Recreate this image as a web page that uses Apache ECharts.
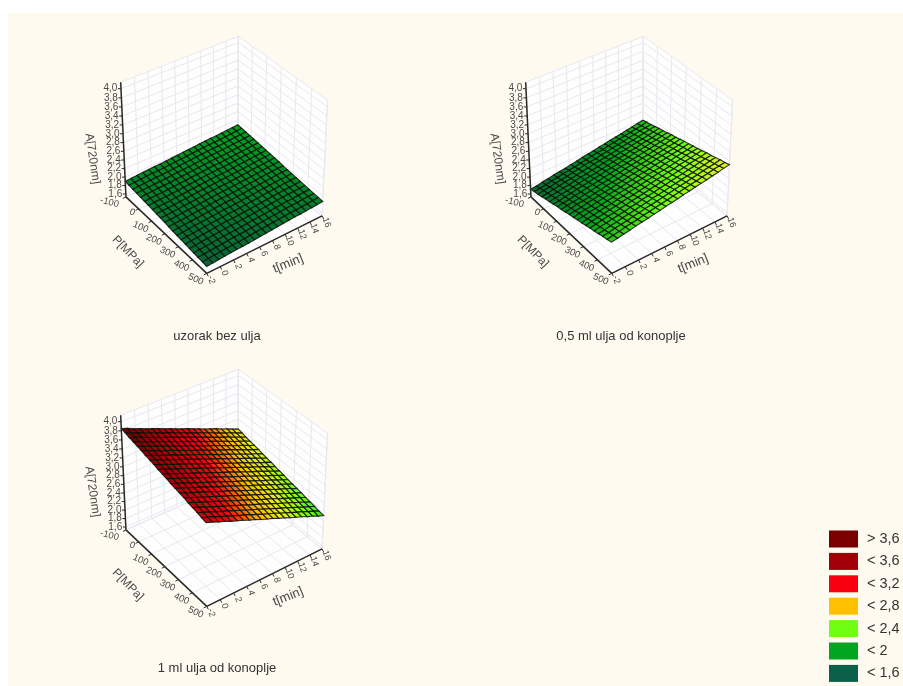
<!DOCTYPE html>
<html><head><meta charset="utf-8">
<style>html,body{margin:0;padding:0;background:#fff}#c{width:903px;height:686px;filter:blur(0.45px)}</style>
<script src="https://cdn.jsdelivr.net/npm/echarts@6/dist/echarts.min.js"></script></head>
<body><div id="c"></div><script>
const tTicks=[-2,0,2,4,6,8,10,12,14,16];
const pTicks=[-100,0,100,200,300,400,500];
const zTicks=[1.6,1.8,2.0,2.2,2.4,2.6,2.8,3.0,3.2,3.4,3.6,3.8,4.0];
const zLabels=['1,6','1,8','2,0','2,2','2,4','2,6','2,8','3,0','3,2','3,4','3,6','3,8','4,0'];
const legendNames=['> 3,6','< 3,6','< 3,2','< 2,8','< 2,4','< 2','< 1,6'];
const legendColors=['#7a0000','#a00008','#f80010','#ffc000','#70ff10','#00a520','#0a6048'];
const captions=['uzorak bez ulja','0,5 ml ulja od konoplje','1 ml ulja od konoplje'];
// surface heights: one row per P step (-100..500), one column per t step (-2..16)
const surf1=[
[1.90,1.91,1.92,1.93,1.94,1.95,1.95,1.96,1.97,1.98,1.99,2.00,2.01,2.02,2.03,2.04,2.04,2.05,2.06,2.07,2.08],
[1.89,1.90,1.91,1.92,1.93,1.93,1.94,1.95,1.96,1.97,1.98,1.99,2.00,2.01,2.02,2.02,2.03,2.04,2.05,2.06,2.07],
[1.88,1.89,1.90,1.91,1.92,1.92,1.93,1.94,1.95,1.96,1.97,1.98,1.99,2.00,2.01,2.01,2.02,2.03,2.04,2.05,2.06],
[1.87,1.88,1.89,1.90,1.90,1.91,1.92,1.93,1.94,1.95,1.96,1.97,1.98,1.99,1.99,2.00,2.01,2.02,2.03,2.04,2.05],
[1.86,1.87,1.88,1.89,1.89,1.90,1.91,1.92,1.93,1.94,1.95,1.96,1.97,1.98,1.98,1.99,2.00,2.01,2.02,2.03,2.04],
[1.85,1.86,1.87,1.87,1.88,1.89,1.90,1.91,1.92,1.93,1.94,1.95,1.96,1.96,1.97,1.98,1.99,2.00,2.01,2.02,2.03],
[1.84,1.85,1.86,1.86,1.87,1.88,1.89,1.90,1.91,1.92,1.93,1.94,1.95,1.95,1.96,1.97,1.98,1.99,2.00,2.01,2.02],
[1.83,1.84,1.84,1.85,1.86,1.87,1.88,1.89,1.90,1.91,1.92,1.93,1.93,1.94,1.95,1.96,1.97,1.98,1.99,2.00,2.01],
[1.82,1.83,1.83,1.84,1.85,1.86,1.87,1.88,1.89,1.90,1.91,1.92,1.92,1.93,1.94,1.95,1.96,1.97,1.98,1.99,2.00],
[1.81,1.81,1.82,1.83,1.84,1.85,1.86,1.87,1.88,1.89,1.90,1.90,1.91,1.92,1.93,1.94,1.95,1.96,1.97,1.98,1.99],
[1.80,1.80,1.81,1.82,1.83,1.84,1.85,1.86,1.87,1.88,1.89,1.89,1.90,1.91,1.92,1.93,1.94,1.95,1.96,1.97,1.98],
[1.78,1.79,1.80,1.81,1.82,1.83,1.84,1.85,1.86,1.87,1.87,1.88,1.89,1.90,1.91,1.92,1.93,1.94,1.95,1.96,1.96],
[1.77,1.78,1.79,1.80,1.81,1.82,1.83,1.84,1.85,1.86,1.86,1.87,1.88,1.89,1.90,1.91,1.92,1.93,1.94,1.95,1.95],
[1.76,1.77,1.78,1.79,1.80,1.81,1.82,1.83,1.84,1.84,1.85,1.86,1.87,1.88,1.89,1.90,1.91,1.92,1.93,1.93,1.94],
[1.75,1.76,1.77,1.78,1.79,1.80,1.81,1.82,1.83,1.83,1.84,1.85,1.86,1.87,1.88,1.89,1.90,1.91,1.92,1.92,1.93],
[1.74,1.75,1.76,1.77,1.78,1.79,1.80,1.81,1.81,1.82,1.83,1.84,1.85,1.86,1.87,1.88,1.89,1.90,1.90,1.91,1.92],
[1.73,1.74,1.75,1.76,1.77,1.78,1.79,1.80,1.80,1.81,1.82,1.83,1.84,1.85,1.86,1.87,1.88,1.89,1.89,1.90,1.91],
[1.72,1.73,1.74,1.75,1.76,1.77,1.78,1.78,1.79,1.80,1.81,1.82,1.83,1.84,1.85,1.86,1.87,1.87,1.88,1.89,1.90],
[1.71,1.72,1.73,1.74,1.75,1.76,1.77,1.77,1.78,1.79,1.80,1.81,1.82,1.83,1.84,1.85,1.86,1.86,1.87,1.88,1.89],
[1.70,1.71,1.72,1.73,1.74,1.75,1.75,1.76,1.77,1.78,1.79,1.80,1.81,1.82,1.83,1.84,1.84,1.85,1.86,1.87,1.88],
[1.69,1.70,1.71,1.72,1.73,1.74,1.74,1.75,1.76,1.77,1.78,1.79,1.80,1.81,1.82,1.83,1.83,1.84,1.85,1.86,1.87]];
const surf2=[
[1.71,1.73,1.76,1.78,1.81,1.83,1.85,1.88,1.90,1.93,1.95,1.97,2.00,2.02,2.05,2.07,2.09,2.12,2.14,2.17,2.19],
[1.74,1.76,1.78,1.81,1.83,1.86,1.88,1.90,1.93,1.95,1.98,2.00,2.02,2.05,2.07,2.10,2.12,2.14,2.17,2.19,2.22],
[1.76,1.79,1.81,1.84,1.86,1.88,1.91,1.93,1.96,1.98,2.00,2.03,2.05,2.08,2.10,2.12,2.15,2.17,2.20,2.22,2.24],
[1.79,1.81,1.84,1.86,1.89,1.91,1.93,1.96,1.98,2.01,2.03,2.05,2.08,2.10,2.13,2.15,2.17,2.20,2.22,2.25,2.27],
[1.82,1.84,1.86,1.89,1.91,1.94,1.96,1.98,2.01,2.03,2.06,2.08,2.10,2.13,2.15,2.18,2.20,2.22,2.25,2.27,2.30],
[1.84,1.87,1.89,1.91,1.94,1.96,1.99,2.01,2.03,2.06,2.08,2.11,2.13,2.15,2.18,2.20,2.23,2.25,2.27,2.30,2.32],
[1.87,1.89,1.92,1.94,1.97,1.99,2.01,2.04,2.06,2.09,2.11,2.13,2.16,2.18,2.21,2.23,2.25,2.28,2.30,2.33,2.35],
[1.90,1.92,1.94,1.97,1.99,2.02,2.04,2.06,2.09,2.11,2.14,2.16,2.18,2.21,2.23,2.26,2.28,2.30,2.33,2.35,2.38],
[1.92,1.95,1.97,1.99,2.02,2.04,2.07,2.09,2.11,2.14,2.16,2.19,2.21,2.23,2.26,2.28,2.31,2.33,2.35,2.38,2.40],
[1.95,1.97,2.00,2.02,2.04,2.07,2.09,2.12,2.14,2.16,2.19,2.21,2.24,2.26,2.28,2.31,2.33,2.36,2.38,2.40,2.43],
[1.98,2.00,2.02,2.05,2.07,2.10,2.12,2.14,2.17,2.19,2.22,2.24,2.26,2.29,2.31,2.34,2.36,2.38,2.41,2.43,2.46],
[2.00,2.03,2.05,2.07,2.10,2.12,2.15,2.17,2.19,2.22,2.24,2.27,2.29,2.31,2.34,2.36,2.39,2.41,2.43,2.46,2.48],
[2.03,2.05,2.08,2.10,2.12,2.15,2.17,2.20,2.22,2.24,2.27,2.29,2.32,2.34,2.36,2.39,2.41,2.44,2.46,2.48,2.51],
[2.05,2.08,2.10,2.13,2.15,2.17,2.20,2.22,2.25,2.27,2.29,2.32,2.34,2.37,2.39,2.41,2.44,2.46,2.49,2.51,2.53],
[2.08,2.11,2.13,2.15,2.18,2.20,2.23,2.25,2.27,2.30,2.32,2.35,2.37,2.39,2.42,2.44,2.47,2.49,2.51,2.54,2.56],
[2.11,2.13,2.16,2.18,2.20,2.23,2.25,2.28,2.30,2.32,2.35,2.37,2.40,2.42,2.44,2.47,2.49,2.52,2.54,2.56,2.59],
[2.13,2.16,2.18,2.21,2.23,2.25,2.28,2.30,2.33,2.35,2.37,2.40,2.42,2.45,2.47,2.49,2.52,2.54,2.57,2.59,2.61],
[2.16,2.18,2.21,2.23,2.26,2.28,2.30,2.33,2.35,2.38,2.40,2.42,2.45,2.47,2.50,2.52,2.54,2.57,2.59,2.62,2.64],
[2.19,2.21,2.24,2.26,2.28,2.31,2.33,2.36,2.38,2.40,2.43,2.45,2.48,2.50,2.52,2.55,2.57,2.60,2.62,2.64,2.67],
[2.21,2.24,2.26,2.29,2.31,2.33,2.36,2.38,2.41,2.43,2.45,2.48,2.50,2.53,2.55,2.57,2.60,2.62,2.65,2.67,2.69],
[2.24,2.26,2.29,2.31,2.34,2.36,2.38,2.41,2.43,2.46,2.48,2.50,2.53,2.55,2.58,2.60,2.62,2.65,2.67,2.70,2.72]];
const surf3=[
[3.85,3.80,3.74,3.69,3.63,3.58,3.53,3.47,3.42,3.36,3.31,3.26,3.20,3.15,3.09,3.04,2.99,2.93,2.88,2.82,2.77],
[3.83,3.77,3.72,3.67,3.61,3.56,3.50,3.45,3.40,3.34,3.29,3.23,3.18,3.13,3.07,3.02,2.96,2.91,2.86,2.80,2.75],
[3.80,3.75,3.70,3.64,3.59,3.53,3.48,3.43,3.37,3.32,3.26,3.21,3.16,3.10,3.05,2.99,2.94,2.89,2.83,2.78,2.72],
[3.78,3.73,3.67,3.62,3.57,3.51,3.46,3.40,3.35,3.30,3.24,3.19,3.13,3.08,3.03,2.97,2.92,2.86,2.81,2.76,2.70],
[3.76,3.70,3.65,3.60,3.54,3.49,3.43,3.38,3.33,3.27,3.22,3.16,3.11,3.06,3.00,2.95,2.89,2.84,2.79,2.73,2.68],
[3.74,3.68,3.63,3.57,3.52,3.47,3.41,3.36,3.30,3.25,3.20,3.14,3.09,3.03,2.98,2.93,2.87,2.82,2.76,2.71,2.66],
[3.71,3.66,3.60,3.55,3.50,3.44,3.39,3.33,3.28,3.23,3.17,3.12,3.06,3.01,2.96,2.90,2.85,2.79,2.74,2.69,2.63],
[3.69,3.64,3.58,3.53,3.47,3.42,3.37,3.31,3.26,3.20,3.15,3.10,3.04,2.99,2.93,2.88,2.83,2.77,2.72,2.66,2.61],
[3.67,3.61,3.56,3.50,3.45,3.40,3.34,3.29,3.23,3.18,3.13,3.07,3.02,2.96,2.91,2.86,2.80,2.75,2.69,2.64,2.59],
[3.64,3.59,3.54,3.48,3.43,3.37,3.32,3.27,3.21,3.16,3.10,3.05,3.00,2.94,2.89,2.83,2.78,2.73,2.67,2.62,2.56],
[3.62,3.57,3.51,3.46,3.40,3.35,3.30,3.24,3.19,3.13,3.08,3.03,2.97,2.92,2.86,2.81,2.76,2.70,2.65,2.59,2.54],
[3.60,3.54,3.49,3.44,3.38,3.33,3.27,3.22,3.17,3.11,3.06,3.00,2.95,2.90,2.84,2.79,2.73,2.68,2.63,2.57,2.52],
[3.57,3.52,3.47,3.41,3.36,3.30,3.25,3.20,3.14,3.09,3.03,2.98,2.93,2.87,2.82,2.76,2.71,2.66,2.60,2.55,2.49],
[3.55,3.50,3.44,3.39,3.34,3.28,3.23,3.17,3.12,3.07,3.01,2.96,2.90,2.85,2.80,2.74,2.69,2.63,2.58,2.53,2.47],
[3.53,3.47,3.42,3.37,3.31,3.26,3.20,3.15,3.10,3.04,2.99,2.93,2.88,2.83,2.77,2.72,2.66,2.61,2.56,2.50,2.45],
[3.51,3.45,3.40,3.34,3.29,3.24,3.18,3.13,3.07,3.02,2.97,2.91,2.86,2.80,2.75,2.70,2.64,2.59,2.53,2.48,2.43],
[3.48,3.43,3.37,3.32,3.27,3.21,3.16,3.10,3.05,3.00,2.94,2.89,2.83,2.78,2.73,2.67,2.62,2.56,2.51,2.46,2.40],
[3.46,3.41,3.35,3.30,3.24,3.19,3.14,3.08,3.03,2.97,2.92,2.87,2.81,2.76,2.70,2.65,2.60,2.54,2.49,2.43,2.38],
[3.44,3.38,3.33,3.27,3.22,3.17,3.11,3.06,3.00,2.95,2.90,2.84,2.79,2.73,2.68,2.63,2.57,2.52,2.46,2.41,2.36],
[3.41,3.36,3.31,3.25,3.20,3.14,3.09,3.04,2.98,2.93,2.87,2.82,2.77,2.71,2.66,2.60,2.55,2.50,2.44,2.39,2.33],
[3.39,3.34,3.28,3.23,3.17,3.12,3.07,3.01,2.96,2.90,2.85,2.80,2.74,2.69,2.63,2.58,2.53,2.47,2.42,2.36,2.31]];
const N=surf1.length-1;
const colorStops=[[1.6,[10,85,62]],[2.1,[0,165,30]],[2.45,[112,255,16]],[2.7,[232,240,32]],[2.9,[255,190,0]],[3.2,[250,0,16]],[3.6,[160,0,8]],[3.9,[100,0,0]]];
function zColor(z){let s=colorStops;if(z<=s[0][0])return 'rgb('+s[0][1]+')';for(let i=1;i<s.length;i++){if(z<=s[i][0]){const f=(z-s[i-1][0])/(s[i][0]-s[i-1][0]);return 'rgb('+s[i][1].map((v,k)=>Math.round(s[i-1][1][k]+(v-s[i-1][1][k])*f))+')'}}return 'rgb('+s[s.length-1][1]+')'}
const T0=-2,T1=16,P0=-100,P1=500,Z0=1.53,Z1=4.14;
// camera calibration: box corners -> plane position within a panel's grid
const calib=[[T0,P0,Z0,46,178],[T0,P1,Z0,126.7,252.7],[T1,P1,Z0,241.7,196.7],[T0,P0,Z1,40.7,61.7],[T1,P1,Z1,248,80],[T1,P0,Z1,158,17],[T1,P0,Z0,158,126]];
const nt=t=>(t-T0)/(T1-T0),np=p=>(p-P0)/(P1-P0),nz=z=>(z-Z0)/(Z1-Z0);
function solve(){const A=[],B=[];calib.forEach(([t,p,z,u,v])=>{const x=nt(t),y=np(p),w=nz(z);A.push([x,y,w,1,0,0,0,0,-u*x,-u*y,-u*w]);B.push(u);A.push([0,0,0,0,x,y,w,1,-v*x,-v*y,-v*w]);B.push(v)});
const n=11,M=[];for(let i=0;i<n;i++){M.push([]);for(let j=0;j<=n;j++){let s=0;for(let k=0;k<A.length;k++)s+=A[k][i]*(j<n?A[k][j]:B[k]);M[i].push(s)}}
for(let i=0;i<n;i++){let p=i;for(let r=i+1;r<n;r++)if(Math.abs(M[r][i])>Math.abs(M[p][i]))p=r;[M[i],M[p]]=[M[p],M[i]];for(let r=0;r<n;r++)if(r!==i){const f=M[r][i]/M[i][i];for(let c=i;c<=n;c++)M[r][c]-=f*M[i][c]}}
return M.map((r,i)=>r[n]/r[i])}
const H=solve();
function proj(t,p,z){const x=nt(t),y=np(p),w=nz(z),d=H[8]*x+H[9]*y+H[10]*w+1;return [(H[0]*x+H[1]*y+H[2]*w+H[3])/d,(H[4]*x+H[5]*y+H[6]*w+H[7])/d]}
const panels=[{left:80,top:20,surf:surf1},{left:485,top:20,surf:surf2},{left:80,top:353,surf:surf3}];
const capPos=[[217,330],[621,330],[217,662]];
const WALL='#fefefe',GRID='#e8e8ee',AXIS='#2a2a2a',TXT='#4a4a4a';
const FONT='"Liberation Sans",Arial,sans-serif';
const walls=[[[T0,P0,Z0],[T1,P0,Z0],[T1,P0,Z1],[T0,P0,Z1]],[[T1,P0,Z0],[T1,P1,Z0],[T1,P1,Z1],[T1,P0,Z1]],[[T0,P0,Z0],[T1,P0,Z0],[T1,P1,Z0],[T0,P1,Z0]]];
const gridSegs=[];
tTicks.forEach(t=>{gridSegs.push([t,P0,Z0,t,P0,Z1]);gridSegs.push([t,P0,Z0,t,P1,Z0])});
pTicks.forEach(p=>{gridSegs.push([T1,p,Z0,T1,p,Z1]);gridSegs.push([T0,p,Z0,T1,p,Z0])});
zTicks.forEach(z=>{gridSegs.push([T0,P0,z,T1,P0,z]);gridSegs.push([T1,P0,z,T1,P1,z])});
const axisSegs=[[T0,P0,Z0,T0,P0,Z1],[T0,P0,Z0,T0,P1,Z0],[T0,P1,Z0,T1,P1,Z0]];
const tickMarks=[];
zTicks.forEach(z=>tickMarks.push({a:[T0,P0,z],d:[-3,0]}));
pTicks.forEach(p=>tickMarks.push({a:[T0,p,Z0],d:[-3,1.5]}));
tTicks.forEach(t=>tickMarks.push({a:[t,P1,Z0],d:[1.5,3]}));
const labels=[];
zTicks.forEach((z,i)=>labels.push({s:zLabels[i],a:[T0,P0,z],d:[-10.5,0],r:0,f:10}));
pTicks.forEach(p=>labels.push({s:String(p),a:[T0,p,Z0],d:p===-100?[-16.5,5.5]:p===0?[-6.5,3.5]:[-11,6],r:p===-100?-0.25:-0.42,f:9.5}));
tTicks.forEach(t=>labels.push({s:String(t),a:[t,P1,Z0],d:[4.5,6.5],r:-1.25,f:9}));
labels.push({s:'A[720nm]',a:[T0,P0,2.8],d:[-31,16],r:-1.43,f:12});
labels.push({s:'P[MPa]',a:[T0,200,Z0],d:[-37,18],r:-0.8,f:12});
labels.push({s:'t[min]',a:[7,P1,Z0],d:[22,20],r:0.38,f:13});
const series=[],grids=[],xA=[],yA=[];
panels.forEach((pn,k)=>{
 grids.push({left:pn.left,top:pn.top,width:320,height:320});
 xA.push({type:'value',gridIndex:k,min:0,max:320,show:false});
 yA.push({type:'value',gridIndex:k,min:0,max:320,inverse:true,show:false});
 const base={type:'custom',coordinateSystem:'cartesian2d',xAxisIndex:k,yAxisIndex:k,clip:false,silent:true,animation:false};
 const pt=(api,c)=>api.coord(proj(c[0],c[1],c[2]));
 series.push({...base,z:2,data:walls.map((_,i)=>[i,0]),renderItem:(ps,api)=>({type:'polygon',shape:{points:walls[ps.dataIndex].map(c=>pt(api,c))},style:{fill:WALL,stroke:GRID,lineWidth:1}})});
 series.push({...base,z:3,data:gridSegs.map((_,i)=>[i,0]),renderItem:(ps,api)=>{const s=gridSegs[ps.dataIndex],a=pt(api,s.slice(0,3)),b=pt(api,s.slice(3));return {type:'line',shape:{x1:a[0],y1:a[1],x2:b[0],y2:b[1]},style:{stroke:GRID,lineWidth:1}}}});
 const dT=(T1-T0)/N,dP=(P1-P0)/N,cells=[];
 for(let j=0;j<N;j++)for(let i=0;i<N;i++)cells.push([i,j]);
 series.push({...base,z:4,data:cells,renderItem:(ps,api)=>{const i=api.value(0),j=api.value(1),m=pn.surf;
  const q=[[i,j],[i+1,j],[i+1,j+1],[i,j+1]];let sum=0;
  const pts=q.map(([a,b])=>{sum+=m[b][a];return pt(api,[T0+a*dT,P0+b*dP,m[b][a]])});
  return {type:'polygon',shape:{points:pts},style:{fill:zColor(sum/4),stroke:'rgba(12,16,6,0.85)',lineWidth:1.15}}}});
 series.push({...base,z:5,data:axisSegs.map((_,i)=>[i,0]),renderItem:(ps,api)=>{const s=axisSegs[ps.dataIndex],a=pt(api,s.slice(0,3)),b=pt(api,s.slice(3));return {type:'line',shape:{x1:a[0],y1:a[1],x2:b[0],y2:b[1]},style:{stroke:AXIS,lineWidth:1.5}}}});
 series.push({...base,z:5,data:tickMarks.map((_,i)=>[i,0]),renderItem:(ps,api)=>{const s=tickMarks[ps.dataIndex],a=pt(api,s.a);return {type:'line',shape:{x1:a[0],y1:a[1],x2:a[0]+s.d[0],y2:a[1]+s.d[1]},style:{stroke:AXIS,lineWidth:1}}}});
 series.push({...base,z:6,data:labels.map((_,i)=>[i,0]),renderItem:(ps,api)=>{const l=labels[ps.dataIndex],a=pt(api,l.a);return {type:'text',x:a[0]+l.d[0],y:a[1]+l.d[1],rotation:l.r,style:{text:l.s,fontSize:l.f,fontFamily:FONT,fill:TXT,textAlign:'center',textVerticalAlign:'middle'}}}});
});
legendNames.forEach((n,i)=>series.push({type:'custom',name:n,coordinateSystem:'cartesian2d',xAxisIndex:0,yAxisIndex:0,data:[],itemStyle:{color:legendColors[i]},renderItem:()=>null}));
const chart=echarts.init(document.getElementById('c'),null,{renderer:'canvas'});
chart.setOption({animation:false,
 graphic:[{type:'rect',z:-10,silent:true,shape:{x:8,y:13,width:895,height:673},style:{fill:'#fefaf0'}}],
 title:captions.map((c,i)=>({text:c,left:capPos[i][0],top:capPos[i][1],textAlign:'center',padding:0,textStyle:{fontSize:13,fontWeight:'normal',fontFamily:FONT,color:'#333'}})),
 legend:{orient:'vertical',left:829,top:530.5,height:156,width:74,padding:0,itemWidth:29,itemHeight:17,itemGap:5.4,icon:'rect',selectedMode:false,data:legendNames,textStyle:{fontSize:14.5,fontFamily:FONT,color:'#333',padding:[0,0,0,4]}},
 grid:grids,xAxis:xA,yAxis:yA,series});
</script></body></html>
